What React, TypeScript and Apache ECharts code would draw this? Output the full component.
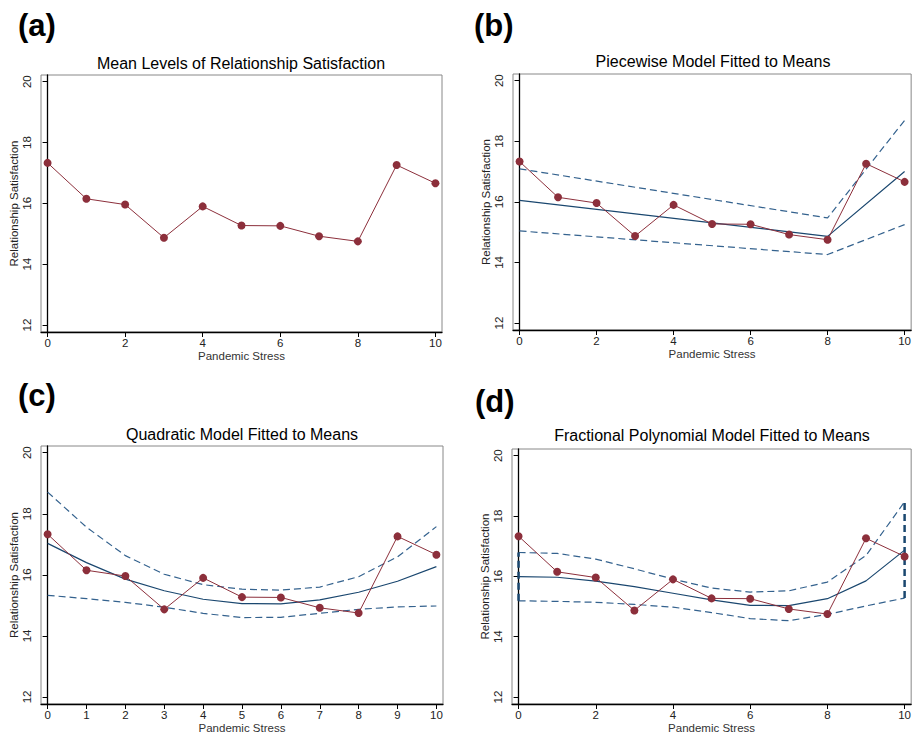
import React, { useEffect, useRef } from "react";
import * as echarts from "echarts";

const stress = [0, 1, 2, 3, 4, 5, 6, 7, 8, 9, 10];
const meanSatisfaction = [17.33, 16.15, 15.96, 14.87, 15.9, 15.27, 15.26, 14.92, 14.75, 17.26, 16.66];

const piecewiseX = [0, 8, 10];
const piecewiseFit = [16.05, 14.86, 17.0];
const piecewiseUpper = [17.09, 15.47, 18.69];
const piecewiseLower = [15.04, 14.26, 15.25];

const quadFit = [17.03, 16.4, 15.86, 15.48, 15.2, 15.06, 15.05, 15.18, 15.43, 15.79, 16.27];
const quadUpper = [18.71, 17.56, 16.63, 16.02, 15.68, 15.53, 15.5, 15.6, 15.94, 16.59, 17.58];
const quadLower = [15.33, 15.22, 15.1, 14.94, 14.74, 14.6, 14.61, 14.74, 14.87, 14.95, 14.98];

const fpFit = [15.99, 15.97, 15.84, 15.66, 15.44, 15.22, 15.04, 15.03, 15.26, 15.85, 16.87];
const fpUpper = [16.79, 16.76, 16.57, 16.25, 15.91, 15.61, 15.48, 15.52, 15.81, 16.69, 18.47];
const fpLower = [15.19, 15.17, 15.14, 15.07, 14.98, 14.8, 14.6, 14.53, 14.74, 15.02, 15.28];

const yTicks = [12, 14, 16, 18, 20];
const xTicksEven = [0, 2, 4, 6, 8, 10];
const xTicksAll = [0, 1, 2, 3, 4, 5, 6, 7, 8, 9, 10];

const panelLabels = ["(a)", "(b)", "(c)", "(d)"];
const panelTitles = [
  "Mean Levels of Relationship Satisfaction",
  "Piecewise Model Fitted to Means",
  "Quadratic Model Fitted to Means",
  "Fractional Polynomial Model Fitted to Means",
];
const xTitle = "Pandemic Stress";
const yTitle = "Relationship Satisfaction";

const FONT = '"Liberation Sans", Arial, Helvetica, sans-serif';
const MAROON = "#8C2F3B";
const NAVY = "#1A476F";
const NAVY_DASH = "#34628E";

const zip = (xs: number[], ys: number[]) => xs.map((x, i) => [x, ys[i]]);

export default function App() {
  const ref = useRef<HTMLDivElement>(null);
  useEffect(() => {
    if (!ref.current) return;
    const chart = echarts.init(ref.current, null, { renderer: "svg" });

    const grids = [
      { left: 41, top: 75, width: 401, height: 257 },
      { left: 513, top: 74, width: 400, height: 256 },
      { left: 41, top: 446, width: 402, height: 258 },
      { left: 512, top: 449, width: 401, height: 255 },
    ];
    const titlePos = [
      { x: 241, y: 63 },
      { x: 713, y: 61 },
      { x: 242, y: 434 },
      { x: 712, y: 435 },
    ];
    const labelPos = [
      { x: 18, y: 25 },
      { x: 474, y: 25 },
      { x: 18, y: 395 },
      { x: 475, y: 401 },
    ];

    const xAxes = grids.map((_, i) => {
      const ticks = i === 2 ? xTicksAll : xTicksEven;
      return {
        type: "value",
        gridIndex: i,
        min: -0.17,
        max: 10.17,
        name: xTitle,
        nameLocation: "middle",
        nameGap: 17,
        nameTextStyle: { fontFamily: FONT, fontSize: 11.5, color: "#333", verticalAlign: "top" },
        axisLine: { show: true, lineStyle: { color: "#000", width: 1.3 } },
        axisTick: { show: true, customValues: ticks, length: 5, lineStyle: { color: "#000", width: 1 } },
        axisLabel: { customValues: ticks, fontFamily: FONT, fontSize: 11.5, color: "#222", margin: 5 },
        splitLine: { show: false },
      };
    });
    const yAxes = grids.map((_, i) => ({
      type: "value",
      gridIndex: i,
      min: 11.77,
      max: 20.22,
      name: yTitle,
      nameLocation: "middle",
      nameGap: 21,
      nameRotate: 90,
      nameTextStyle: { fontFamily: FONT, fontSize: 11.5, color: "#222" },
      axisLine: { show: true, lineStyle: { color: "#000", width: 1.3 } },
      axisTick: { show: true, customValues: yTicks, length: 5, lineStyle: { color: "#000", width: 1 } },
      axisLabel: { customValues: yTicks, rotate: 90, fontFamily: FONT, fontSize: 11.5, color: "#222", margin: 8 },
      splitLine: { show: false },
    }));

    const meanSeries = (i: number) => ({
      type: "line",
      xAxisIndex: i,
      yAxisIndex: i,
      data: zip(stress, meanSatisfaction),
      symbol: "circle",
      symbolSize: 8,
      itemStyle: { color: MAROON },
      lineStyle: { color: MAROON, width: 1 },
      z: 5,
    });
    const lineSeries = (i: number, xs: number[], ys: number[], dashed: boolean) => ({
      type: "line",
      xAxisIndex: i,
      yAxisIndex: i,
      data: zip(xs, ys),
      symbol: "none",
      lineStyle: dashed
        ? { color: NAVY_DASH, width: 1.2, type: [7, 4] }
        : { color: NAVY, width: 1.2 },
      z: 3,
    });

    const series: any[] = [
      meanSeries(0),
      lineSeries(1, piecewiseX, piecewiseUpper, true),
      lineSeries(1, piecewiseX, piecewiseLower, true),
      lineSeries(1, piecewiseX, piecewiseFit, false),
      meanSeries(1),
      lineSeries(2, stress, quadUpper, true),
      lineSeries(2, stress, quadLower, true),
      lineSeries(2, stress, quadFit, false),
      meanSeries(2),
      lineSeries(3, stress, fpUpper, true),
      lineSeries(3, stress, fpLower, true),
      lineSeries(3, stress, fpFit, false),
      {
        type: "line",
        xAxisIndex: 3,
        yAxisIndex: 3,
        data: [[0, fpLower[0]], [0, fpUpper[0]]],
        symbol: "none",
        lineStyle: { color: NAVY, width: 2.5, type: [7, 4] },
        z: 4,
      },
      {
        type: "line",
        xAxisIndex: 3,
        yAxisIndex: 3,
        data: [[10, fpLower[10]], [10, fpUpper[10]]],
        symbol: "none",
        lineStyle: { color: NAVY, width: 2.5, type: [7, 4] },
        z: 4,
      },
      meanSeries(3),
    ];

    const graphic: any[] = [];
    panelLabels.forEach((t, i) => {
      graphic.push({
        type: "text",
        x: labelPos[i].x,
        y: labelPos[i].y,
        style: {
          text: t,
          font: `bold 31px ${FONT}`,
          fill: "#000",
          textAlign: "left",
          textVerticalAlign: "middle",
        },
      });
      graphic.push({
        type: "text",
        x: titlePos[i].x,
        y: titlePos[i].y,
        style: {
          text: panelTitles[i],
          font: `16px ${FONT}`,
          fill: "#000",
          textAlign: "center",
          textVerticalAlign: "middle",
        },
      });
    });

    chart.setOption({
      animation: false,
      backgroundColor: "#fff",
      grid: grids.map((g) => ({ ...g, show: true, borderColor: "#888", borderWidth: 1, backgroundColor: "transparent" })),
      xAxis: xAxes,
      yAxis: yAxes,
      series,
      graphic,
    });
    return () => chart.dispose();
  }, []);
  return (
    <div
      ref={ref}
      style={{ position: "absolute", left: 0, top: 0, width: 914, height: 736, background: "#fff" }}
    />
  );
}
